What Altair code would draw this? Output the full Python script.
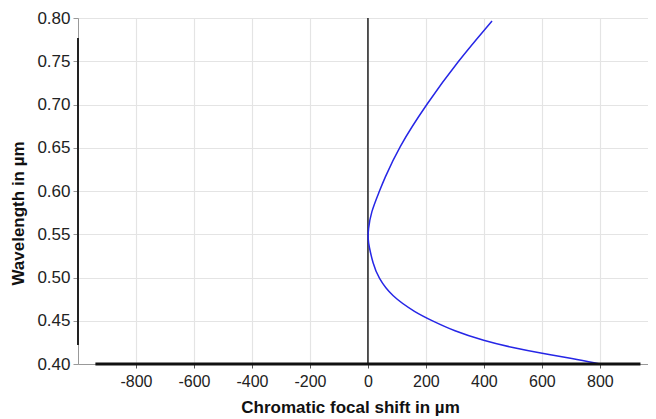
import altair as alt
import pandas as pd

# Curve: wavelength (µm) vs chromatic focal shift (µm)
wavelength = [0.400, 0.4066, 0.4123, 0.4188, 0.4269, 0.4385, 0.450, 0.4593, 0.4784,
              0.500, 0.5167, 0.5357, 0.545, 0.555, 0.575, 0.600, 0.612, 0.650,
              0.700, 0.750, 0.7965]
focal_shift = [800, 705, 600, 500, 400, 295, 222, 165, 81,
               35, 17, 4, 0, 1, 10, 40, 54, 105,
               201, 310, 428]

x_ticks = [-800, -600, -400, -200, 0, 200, 400, 600, 800]
y_ticks = [0.40, 0.45, 0.50, 0.55, 0.60, 0.65, 0.70, 0.75, 0.80]

# reference lines drawn in the chart
zero_line_x = [0]
zero_line_y = [0.40, 0.80]
bottom_bar_x = [-940, 940]
bottom_bar_y = [0.40]
left_bar_x = [-1000]
left_bar_y = [0.422, 0.777]

x_domain = [-1000, 966]
y_domain = [0.40, 0.80]

FONT = "Liberation Sans"

curve = pd.DataFrame({"shift": focal_shift, "wl": wavelength, "i": range(len(wavelength))})

xs = alt.Scale(domain=x_domain, nice=False, zero=False)
ys = alt.Scale(domain=y_domain, nice=False, zero=False)

base_x = alt.X("shift:Q", scale=xs,
               axis=alt.Axis(values=x_ticks, title="Chromatic focal shift in µm",
                             labelExpr="'' + datum.value",
                             labelFontSize=16, titleFontSize=17, labelFont=FONT, titleFont=FONT,
                             titleFontWeight="bold", labelColor="#222", titleColor="#111",
                             gridColor="#e4e4e4", gridWidth=1.2, domainColor="#999",
                             tickColor="#555", tickSize=4, labelPadding=5, titlePadding=10,
                             titleX=272))
base_y = alt.Y("wl:Q", scale=ys,
               axis=alt.Axis(values=y_ticks, format=".2f", title="Wavelength in µm",
                             labelFontSize=17, titleFontSize=17, labelFont=FONT, titleFont=FONT,
                             titleFontWeight="bold", labelColor="#222", titleColor="#111",
                             gridColor="#e4e4e4", gridWidth=1.2, domainColor="#999",
                             tickColor="#999", tickSize=5, labelPadding=3, titlePadding=9,
                             titleY=195))

line = alt.Chart(curve).mark_line(color="#2626e6", strokeWidth=1.5, interpolate="basis").encode(
    x=base_x, y=base_y, order="i:Q")

zero = alt.Chart(pd.DataFrame({"x": zero_line_x, "y": [zero_line_y[0]], "y2": [zero_line_y[1]]})).mark_rule(
    color="#222", strokeWidth=1.5).encode(x=alt.X("x:Q", scale=xs), y=alt.Y("y:Q", scale=ys), y2="y2:Q")

bottom = alt.Chart(pd.DataFrame({"x": [bottom_bar_x[0]], "x2": [bottom_bar_x[1]], "y": bottom_bar_y})).mark_rule(
    color="#111", strokeWidth=3).encode(x=alt.X("x:Q", scale=xs), x2="x2:Q", y=alt.Y("y:Q", scale=ys))

left = alt.Chart(pd.DataFrame({"x": left_bar_x, "y": [left_bar_y[0]], "y2": [left_bar_y[1]]})).mark_rule(
    color="#222", strokeWidth=2).encode(x=alt.X("x:Q", scale=xs), y=alt.Y("y:Q", scale=ys), y2="y2:Q")

chart = alt.layer(zero, line, bottom, left).properties(
    width=570, height=346,
    padding={"left": 70, "top": 10, "right": 0, "bottom": 58},
    autosize=alt.AutoSizeParams(type="none"),
).configure_view(stroke=None).configure(background="white")

chart.save("out.html", embed_options={"renderer": "svg", "actions": False})
